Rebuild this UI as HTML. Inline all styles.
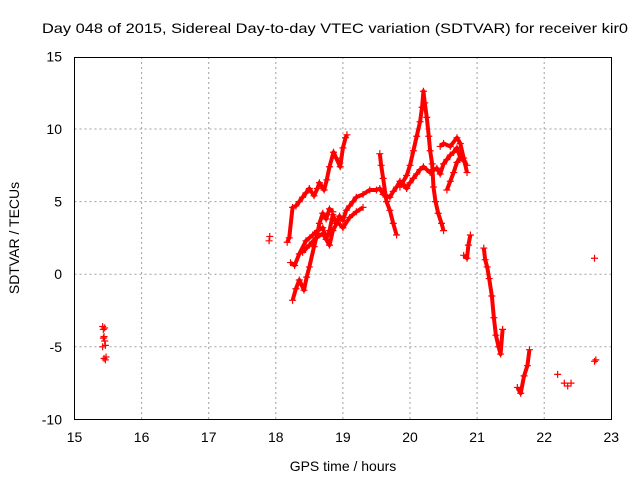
<!DOCTYPE html>
<html><head><meta charset="utf-8"><style>body{margin:0;background:#fff}svg{display:block;font-family:"Liberation Sans",sans-serif}</style></head>
<body>
<svg id="chart" width="640" height="480" xmlns="http://www.w3.org/2000/svg">
<rect width="640" height="480" fill="#fff"/>
<text x="335" y="33" font-size="14" text-anchor="middle" textLength="586" lengthAdjust="spacingAndGlyphs">Day 048 of 2015, Sidereal Day-to-day VTEC variation (SDTVAR) for receiver kir0</text>
<g id="grid"></g>
<g id="axes"></g>
<g id="marks"></g>
<text x="343" y="471" font-size="14" text-anchor="middle">GPS time / hours</text>
<text transform="translate(19,238) rotate(-90)" font-size="14" text-anchor="middle">SDTVAR / TECUs</text>
</svg>
<script>
const xTicks=[15,16,17,18,19,20,21,22,23];
const yTicks=[-10,-5,0,5,10,15];
const trackA_t=[15.42,15.43,15.44,15.45,15.46,15.42,15.44,15.46,15.43,15.45,15.47];
const trackA_v=[-3.6,-3.8,-4.3,-4.6,-4.9,-5.0,-5.8,-5.9,-4.4,-3.7,-5.7];
const trackB_t=[17.9,17.91];
const trackB_v=[2.3,2.6];
const trackC_t=[18.17,18.2,18.25,18.3,18.35,18.4,18.45,18.5,18.57,18.62,18.65,18.72,18.76,18.8,18.86,18.9,18.96,19.0,19.04,19.06];
const trackC_v=[2.2,2.5,4.6,4.7,5.0,5.3,5.6,5.9,5.4,5.9,6.3,5.8,6.5,7.4,8.4,8.0,7.4,8.7,9.4,9.6];
const trackD_t=[18.25,18.3,18.35,18.42,18.46,18.5,18.57,18.62,18.65,18.7,18.75,18.8,18.85];
const trackD_v=[-1.8,-1.0,-0.4,-1.1,-0.2,0.5,1.9,2.8,3.5,4.2,3.8,4.5,4.3];
const trackE_t=[18.22,18.28,18.35,18.45,18.55,18.62,18.7,18.75,18.8,18.85,18.9,18.95,19.0,19.05,19.1,19.15,19.2,19.3,19.4,19.5,19.55,19.6,19.7,19.75,19.8,19.85,19.9,19.95,20.0,20.05,20.1,20.15,20.2,20.3,20.4,20.45,20.5,20.55,20.6,20.65,20.7,20.75,20.8,20.85];
const trackE_v=[0.8,0.6,1.4,2.3,2.7,3.0,3.2,2.4,3.0,4.1,3.5,4.0,3.7,4.4,4.7,5.0,5.3,5.5,5.8,5.8,5.9,5.5,5.3,5.7,6.0,6.4,6.2,5.9,6.3,6.6,6.9,7.2,7.4,7.0,7.3,6.9,7.6,7.9,8.2,8.4,8.7,8.0,7.8,7.5];
const trackM_t=[18.4,18.5,18.6,18.7,18.8,18.85,18.92,19.0,19.1,19.2,19.3];
const trackM_v=[1.5,2.0,2.5,2.8,2.0,3.0,3.6,3.2,3.9,4.3,4.6];
const trackF_t=[19.85,19.95,20.0,20.05,20.1,20.15,20.18,20.2,20.22,20.25,20.28,20.3,20.33,20.35,20.38,20.42,20.47,20.5];
const trackF_v=[6.0,6.8,7.5,8.5,9.5,10.5,11.5,12.6,11.8,10.8,9.5,8.5,7.6,6.0,5.0,4.2,3.5,3.0];
const trackG_t=[19.55,19.57,19.6,19.65,19.7,19.75,19.8];
const trackG_v=[8.3,7.5,6.6,5.0,4.4,3.5,2.7];
const trackH_t=[20.45,20.5,20.6,20.7,20.75,20.8,20.85];
const trackH_v=[8.8,9.0,8.8,9.4,9.0,8.0,7.0];
const trackH2_t=[20.55,20.6,20.65,20.7,20.75];
const trackH2_v=[5.8,6.4,7.0,7.7,8.0];
const trackI1_t=[20.8,20.85,20.87,20.9];
const trackI1_v=[1.3,1.1,2.0,2.7];
const trackI2_t=[21.1,21.12,21.15,21.18,21.22,21.25,21.28,21.32,21.35,21.38];
const trackI2_v=[1.8,1.0,0.5,-0.3,-1.5,-3.0,-4.2,-5.0,-5.5,-3.8];
const trackJ_t=[21.6,21.65,21.7,21.75,21.78];
const trackJ_v=[-7.8,-8.2,-7.0,-6.3,-5.2];
const trackK_t=[22.2,22.3,22.35,22.4,22.75,22.75,22.77];
const trackK_v=[-6.9,-7.5,-7.7,-7.5,1.1,-6.0,-5.9];
const X=t=>74.5+(t-15)*67.1;
const Y=v=>274.2-v*14.52;
const NS="http://www.w3.org/2000/svg";
function mk(tag,attrs,parent){const e=document.createElementNS(NS,tag);for(const k in attrs)e.setAttribute(k,attrs[k]);parent.appendChild(e);return e;}
const grid=document.getElementById('grid'),axes=document.getElementById('axes'),marks=document.getElementById('marks');
xTicks.forEach(t=>{
 if(t>15&&t<23){const l=mk('line',{x1:X(t),x2:X(t),y1:57,y2:419.5,stroke:'#a0a0a0','stroke-dasharray':'2,3'},grid);
 
 }
 const tx=mk('text',{x:X(t),y:442,'font-size':14,'text-anchor':'middle'},axes);tx.textContent=t;
 
 
});
yTicks.forEach(v=>{
 if(v>-10&&v<15){const l=mk('line',{x1:74.5,x2:611.5,y1:Y(v),y2:Y(v),stroke:'#a0a0a0','stroke-dasharray':'2,3'},grid);
 
 }
 const tx=mk('text',{x:62,y:Y(v)+5,'font-size':14,'text-anchor':'end'},axes);tx.textContent=v;
 
 
});
const frame=mk('rect',{x:74.5,y:57.5,width:537,height:362,fill:'none',stroke:'#000'},axes);


const tracks=[[trackA_t,trackA_v,false],[trackB_t,trackB_v,false],[trackC_t,trackC_v,true],[trackD_t,trackD_v,true],[trackE_t,trackE_v,true],[trackM_t,trackM_v,true],[trackF_t,trackF_v,true],[trackG_t,trackG_v,true],[trackH_t,trackH_v,true],[trackH2_t,trackH2_v,true],[trackI1_t,trackI1_v,true],[trackI2_t,trackI2_v,true],[trackJ_t,trackJ_v,true],[trackK_t,trackK_v,false]];
tracks.forEach(tr=>{
 const [ts,vs,join]=tr;
 if(join){
  const pts=ts.map((t,k)=>X(t)+','+Y(vs[k])).join(' ');
  const pl=mk('polyline',{points:pts,fill:'none',stroke:'#f00','stroke-width':4,'stroke-linejoin':'round'},marks);
  
  
 }
 ts.forEach((t,k)=>{
  const x=X(t),y=Y(vs[k]);
  const p=mk('path',{d:`M${x-3.5},${y}h7M${x},${y-3.5}v7`,stroke:'#f00','stroke-width':1.2},marks);
  
  
 });
});
</script>
</body></html>
